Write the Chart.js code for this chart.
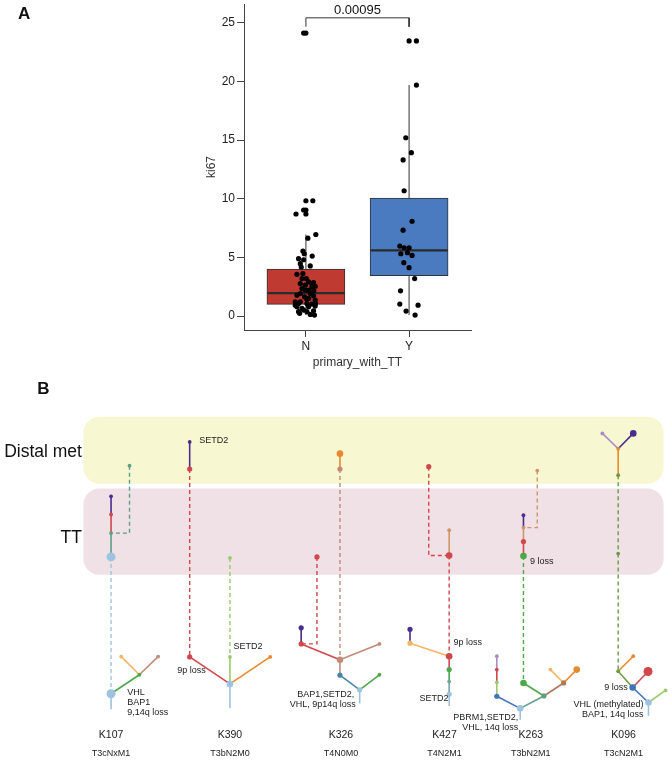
<!DOCTYPE html>
<html lang="en">
<head>
<meta charset="UTF-8">
<title>ki67 by primary_with_TT and clone trees</title>
<script src="https://cdn.jsdelivr.net/npm/chart.js"></script>
<style>
    body { margin: 0; background: #fff; }
    #wrap { position: relative; width: 672px; height: 763px; }
    canvas { position: absolute; left: 0; }
    #chartA { top: 0; }
    #chartB { top: 370px; }
</style>
</head>
<body>
<div id="wrap">
    <canvas id="chartA" width="672" height="380"></canvas>
    <canvas id="chartB" width="672" height="393"></canvas>
</div>
<script>
// ---------- panel A data ----------
const groups = ['N', 'Y'];
const kiTicks = [0, 5, 10, 15, 20, 25];
const boxQ1 = [1.0, 3.45];
const boxMedian = [1.95, 5.6];
const boxQ3 = [4.0, 10.05];
const whiskerLow = [0.08, 0.08];
const whiskerHigh = [6.95, 19.7];
const nValues = [24.12, 9.83, 9.04, 8.70, 6.95, 6.64, 5.54, 5.31, 4.89, 4.80, 5.11, 4.18, 4.27, 3.56,
    3.62, 3.19, 2.77, 2.85, 2.49, 2.54, 2.34, 2.20, 2.15, 1.78, 1.92, 1.72, 1.64, 1.41, 1.21, 1.07,
    1.07, 1.02, 1.07, 0.79, 0.65, 0.79, 0.85, 0.37, 0.37, 0.45, 0.23, 0.14, 0.08, 0.51, 1.21, 2.77,
    2.63, 2.91, 1.92, 2.20, 3.19, 0.93, 1.36, 1.50, 4.46];
const nJitter = [-0.022, 0.067, -0.022, -0.096, 0.096, 0.019, -0.029, -0.016, -0.071, -0.022, 0.061,
    -0.045, 0.042, -0.087, -0.029, 0.003, -0.054, 0.074, 0.058, 0.09, -0.038, 0.026, 0.077, -0.087,
    0.042, 0.074, -0.013, 0.01, -0.103, -0.071, 0.01, 0.058, 0.093, -0.087, -0.038, 0.026, 0.09,
    -0.071, 0.01, 0.074, -0.061, 0.042, 0.083, -0.022, -0.054, 0.058, -0.006, 0.026, -0.054, -0.006,
    -0.038, -0.103, 0.09, 0.026, -0.054];
const yValues = [23.45, 19.69, 15.20, 13.93, 13.31, 10.68, 8.08, 7.32, 5.96, 5.82, 5.82, 5.31, 5.40,
    5.17, 4.55, 4.12, 3.19, 2.15, 1.02, 0.93, 0.42, 0.08];
const yJitter = [0.071, 0.071, -0.032, 0.022, -0.058, -0.048, 0.029, -0.058, -0.090, -0.048, 0,
    -0.080, -0.016, 0.029, -0.051, 0, 0.054, -0.083, -0.090, 0.087, -0.029, 0.058];
const bracketTop = 25.42;
const bracketFoot = 24.66;
const pValue = '0.00095';

// ---------- panel B data ----------
const samples = ['K107', 'K390', 'K326', 'K427', 'K263', 'K096'];
const stages = ['T3cNxM1', 'T3bN2M0', 'T4N0M0', 'T4N2M1', 'T3bN2M1', 'T3cN2M1'];
const sampleX = [108, 228.5, 341, 446, 533.5, 627.5];
const sites = ['Distal met', 'TT'];
const siteTop = [413.3, 486.7];
const siteBottom = [481.7, 575];
const siteSpan = [80, 668];
const siteLabelY = [449, 538];

// [id, x, y, clone, size]  size 0 = trunk end, no dot
const treeNodes = [
    ['a_d1', 126.7, 463.3, 'teal', 1], ['a_t1', 108, 494.7, 'purple', 1], ['a_t2', 108, 513.3, 'red', 1],
    ['a_t3', 108, 532.3, 'teal', 1], ['a_t4', 108, 556.7, 'lblue', 4], ['a_p0', 108, 696.7, 'lblue', 4],
    ['a_p1', 136.7, 677.3, 'green', 1], ['a_p2', 118.3, 658.7, 'lorange', 1], ['a_p3', 155.7, 658.7, 'brown', 1],
    ['a_n', 108, 712.7, 'lblue', 0],

    ['b_d1', 187.7, 439, 'purple', 1], ['b_d2', 187.7, 466.7, 'red', 2], ['b_t1', 228.5, 557.7, 'lgreen', 1],
    ['b_p0', 228.5, 686.7, 'lblue', 3], ['b_p1', 187.7, 659, 'red', 2], ['b_p2', 228.5, 659, 'lgreen', 1],
    ['b_p3', 269.3, 659, 'orange', 1], ['b_n', 228.5, 711.7, 'lblue', 0],

    ['c_d1', 340, 451, 'orange', 3], ['c_d2', 340, 466.7, 'brown', 2], ['c_t1', 316.7, 556.7, 'red', 2],
    ['c_p0', 360, 692.7, 'lblue', 2], ['c_p1', 340, 677.7, 'sblue', 2], ['c_p2', 380, 677.3, 'green', 1],
    ['c_p3', 340, 662, 'brown', 3], ['c_p4', 380, 645.7, 'brown', 1], ['c_p5', 300.7, 645.7, 'red', 2],
    ['c_p6', 300.7, 629.3, 'purple', 2], ['c_n', 360, 706.7, 'lblue', 0],

    ['d_d1', 430, 464.3, 'red', 2], ['d_t1', 450.7, 555.3, 'red', 3], ['d_t2', 450.7, 529.3, 'tan', 1],
    ['d_p0', 450.7, 697.3, 'lblue', 2], ['d_p1', 450.7, 684.3, 'tealgrey', 1], ['d_p2', 450.7, 672, 'green', 2],
    ['d_p3', 450.7, 658.3, 'red', 3], ['d_p4', 411, 645, 'lorange', 2], ['d_p5', 411, 630.7, 'purple', 2],
    ['d_n', 450.7, 709.3, 'lblue', 0],

    ['e_d1', 540, 468.3, 'tan', 1], ['e_t1', 526, 514, 'purple', 1], ['e_t2', 526, 526.7, 'tan', 1],
    ['e_t3', 526, 541, 'red', 2], ['e_t4', 526, 555.7, 'green', 3], ['e_p0', 522.7, 711.7, 'lblue', 3],
    ['e_p1', 499, 699.3, 'blue', 2], ['e_p2', 499, 685, 'lgreen', 1], ['e_p3', 499, 672, 'red', 1],
    ['e_p4', 499, 658.3, 'lav', 1], ['e_p5', 546.7, 699, 'teal', 2], ['e_p6', 526, 685.7, 'green', 3],
    ['e_p7', 566.7, 685.7, 'dbrown', 2], ['e_p8', 553.3, 672, 'lorange', 1], ['e_p9', 580, 672, 'orange', 3],
    ['e_n', 522.7, 723.3, 'lblue', 0],

    ['f_d0', 622, 473, 'olive', 1], ['f_d1', 622, 446, 'orange', 1], ['f_d2', 606, 430.3, 'lav', 1],
    ['f_d3', 637.3, 430.3, 'purple', 3], ['f_t1', 622, 553.3, 'olive', 1], ['f_p0', 652.7, 705.7, 'lblue', 3],
    ['f_p1', 670, 693.3, 'lgreen', 1], ['f_p2', 636.7, 690.3, 'blue', 3], ['f_p3', 652.3, 674, 'red', 4],
    ['f_p4', 622, 673.7, 'olive', 1], ['f_p5', 637.3, 658.3, 'orange', 1], ['f_n', 652.7, 719.3, 'lblue', 0]
];

// [parent, child, kind]  t = branch, m = migration between sites
const treeEdges = [
    ['a_n', 'a_p0', 't'], ['a_p0', 'a_p1', 't'], ['a_p1', 'a_p2', 't'], ['a_p1', 'a_p3', 't'],
    ['a_p0', 'a_t4', 'm'], ['a_t4', 'a_t3', 't'], ['a_t3', 'a_t2', 't'], ['a_t2', 'a_t1', 't'], ['a_t3', 'a_d1', 'm'],
    ['b_n', 'b_p0', 't'], ['b_p0', 'b_p1', 't'], ['b_p0', 'b_p2', 't'], ['b_p0', 'b_p3', 't'],
    ['b_p1', 'b_d2', 'm'], ['b_d2', 'b_d1', 't'], ['b_p2', 'b_t1', 'm'],
    ['c_n', 'c_p0', 't'], ['c_p0', 'c_p1', 't'], ['c_p0', 'c_p2', 't'], ['c_p1', 'c_p3', 't'],
    ['c_p3', 'c_p4', 't'], ['c_p3', 'c_p5', 't'], ['c_p5', 'c_p6', 't'],
    ['c_p3', 'c_d2', 'm'], ['c_d2', 'c_d1', 't'], ['c_p5', 'c_t1', 'm'],
    ['d_n', 'd_p0', 't'], ['d_p0', 'd_p1', 't'], ['d_p1', 'd_p2', 't'], ['d_p2', 'd_p3', 't'],
    ['d_p3', 'd_p4', 't'], ['d_p4', 'd_p5', 't'], ['d_p3', 'd_t1', 'm'], ['d_t1', 'd_t2', 't'], ['d_t1', 'd_d1', 'm'],
    ['e_n', 'e_p0', 't'], ['e_p0', 'e_p1', 't'], ['e_p1', 'e_p2', 't'], ['e_p2', 'e_p3', 't'], ['e_p3', 'e_p4', 't'],
    ['e_p0', 'e_p5', 't'], ['e_p5', 'e_p6', 't'], ['e_p5', 'e_p7', 't'], ['e_p7', 'e_p8', 't'], ['e_p7', 'e_p9', 't'],
    ['e_p6', 'e_t4', 'm'], ['e_t4', 'e_t3', 't'], ['e_t3', 'e_t2', 't'], ['e_t2', 'e_t1', 't'], ['e_t2', 'e_d1', 'm'],
    ['f_n', 'f_p0', 't'], ['f_p0', 'f_p1', 't'], ['f_p0', 'f_p2', 't'], ['f_p2', 'f_p3', 't'], ['f_p2', 'f_p4', 't'],
    ['f_p4', 'f_p5', 't'], ['f_p4', 'f_t1', 'm'], ['f_t1', 'f_d0', 'm'], ['f_d0', 'f_d1', 't'],
    ['f_d1', 'f_d2', 't'], ['f_d1', 'f_d3', 't']
];

// [text, x, y, align]
const notes = [
    ['SETD2', 197.3, 438, 'left'],
    ['VHL', 124.3, 695, 'left'], ['BAP1', 124.3, 705.7, 'left'], ['9,14q loss', 124.3, 716, 'left'],
    ['SETD2', 232, 648.7, 'left'], ['9p loss', 204, 672.7, 'right'],
    ['BAP1,SETD2,', 354.5, 697.7, 'right'], ['VHL, 9p14q loss', 356, 708, 'right'],
    ['9p loss', 455, 644, 'left'], ['SETD2', 450, 701.7, 'right'],
    ['9 loss', 532.7, 561.7, 'left'],
    ['PBRM1,SETD2,', 520.7, 721, 'right'], ['VHL, 14q loss', 520.7, 731.7, 'right'],
    ['9 loss', 631.7, 690.3, 'right'], ['VHL (methylated)', 647.7, 707.3, 'right'], ['BAP1, 14q loss', 647.7, 717.7, 'right']
];

// ---------- styles ----------
const FONT = "'Liberation Sans', Arial, Helvetica, sans-serif";
const boxColors = ['#BF3A30', '#4A7BC1'];
const siteColors = ['#F7F7D1', '#F0E1E6'];
const nodeRadius = [0, 1.9, 2.6, 3.3, 4.5];
const cloneColor = {
    purple: '#4A2C8E', red: '#D1474C', teal: '#5F9E8B', lblue: '#9DC3E1', green: '#4DA84A',
    lorange: '#F1B764', brown: '#C28B78', orange: '#E8892E', lgreen: '#9ACB69', sblue: '#4A85A9',
    blue: '#3F74B7', lav: '#A78BC6', olive: '#6C9A42', tan: '#CF9468', tealgrey: '#70A59C', dbrown: '#A97B5D'
};

Chart.defaults.font.family = FONT;

function lineSet(pts, color, width, dash, order) {
    return {
        type: 'scatter', data: pts, showLine: true, borderColor: color, borderWidth: width,
        borderDash: dash || [], pointRadius: 0, pointHoverRadius: 0, tension: 0,
        fill: false, order: order, clip: false
    };
}

// no extra room for the outer tick labels
function noLabelPadding(s) {
    s.paddingTop = 0; s.paddingBottom = 0; s.paddingLeft = 0; s.paddingRight = 0;
}

// ---------- panel A ----------
const dsA = [];
groups.forEach((g, i) => {
    dsA.push(lineSet([{ x: i, y: boxQ3[i] }, { x: i, y: whiskerHigh[i] }], '#333', 1, null, 4));
    dsA.push(lineSet([{ x: i, y: whiskerLow[i] }, { x: i, y: boxQ1[i] }], '#333', 1, null, 4));
    dsA.push(lineSet([{ x: i - 0.375, y: boxMedian[i] }, { x: i + 0.375, y: boxMedian[i] }], '#2b2b2b', 2.4, null, 2));
});
dsA.push({
    type: 'bar',
    data: groups.map((g, i) => ({ x: i, y: [boxQ1[i], boxQ3[i]] })),
    backgroundColor: boxColors, borderColor: '#333', borderWidth: 1, borderSkipped: false,
    barThickness: 78, order: 3
});
const groupVals = [nValues, yValues];
const outliers = [];
groupVals.forEach((vals, i) => vals.forEach(v => {
    if (v > whiskerHigh[i] || v < whiskerLow[i]) outliers.push({ x: i, y: v });
}));
dsA.push({ type: 'scatter', data: outliers, pointRadius: 2.6, pointBackgroundColor: '#000', pointBorderWidth: 0, order: 1 });
dsA.push({
    type: 'scatter',
    data: nValues.map((v, k) => ({ x: 0 + nJitter[k], y: v })).concat(yValues.map((v, k) => ({ x: 1 + yJitter[k], y: v }))),
    pointRadius: 2.6, pointBackgroundColor: '#000', pointBorderWidth: 0, order: 0
});
dsA.push(lineSet([{ x: 0, y: bracketFoot }, { x: 0, y: bracketTop }, { x: 1, y: bracketTop }, { x: 1, y: bracketFoot }], '#333', 1, null, 5));

const textA = {
    id: 'textA',
    afterDraw(chart) {
        const ctx = chart.ctx, sx = chart.scales.x, sy = chart.scales.y;
        ctx.save();
        ctx.fillStyle = '#111';
        ctx.textBaseline = 'middle';
        ctx.textAlign = 'center';
        ctx.font = '13px ' + FONT;
        ctx.fillText(pValue, sx.getPixelForValue(0.5), sy.getPixelForValue(26.05));
        ctx.textAlign = 'left';
        ctx.font = 'bold 17px ' + FONT;
        ctx.fillText('A', 18, 14.5);
        ctx.restore();
    }
};

new Chart(document.getElementById('chartA'), {
    type: 'scatter',
    data: { datasets: dsA },
    options: {
        responsive: false, animation: false, events: [],
        layout: { padding: { left: 0, right: 201, top: 2, bottom: 0 } },
        plugins: { legend: { display: false }, tooltip: { enabled: false } },
        scales: {
            x: {
                type: 'linear', min: -0.6, max: 1.6, offset: false,
                afterBuildTicks: s => { s.ticks = groups.map((g, i) => ({ value: i })); },
                afterFit: s => { s.height = 50; noLabelPadding(s); },
                ticks: { callback: v => groups[v], font: { size: 12 }, color: '#222', padding: 2 },
                grid: { drawOnChartArea: false, drawTicks: true, tickLength: 7, color: '#444', offset: false },
                border: { display: true, color: '#444', width: 1 },
                title: { display: true, text: 'primary_with_TT', font: { size: 12 }, color: '#333', padding: { top: 0, bottom: 10 } }
            },
            y: {
                type: 'linear', min: -1.19, max: 26.6,
                afterBuildTicks: s => { s.ticks = kiTicks.map(v => ({ value: v })); },
                afterFit: s => { s.width = 244; noLabelPadding(s); },
                ticks: { font: { size: 12 }, color: '#222', padding: 2 },
                grid: { drawOnChartArea: false, drawTicks: true, tickLength: 7, color: '#444' },
                border: { display: true, color: '#444', width: 1 },
                title: { display: true, text: 'ki67', font: { size: 12 }, color: '#333', padding: { top: 204, bottom: 0 } }
            }
        }
    },
    plugins: [textA]
});

// ---------- panel B ----------
const nodeById = {};
treeNodes.forEach(n => { nodeById[n[0]] = n; });

const dsB = treeEdges.map(e => {
    const p = nodeById[e[0]], c = nodeById[e[1]];
    const color = cloneColor[c[3]];
    if (e[2] === 'm') {
        const pts = [{ x: c[1], y: c[2] }, { x: c[1], y: p[2] }, { x: p[1], y: p[2] }];
        return lineSet(pts, color, 1.4, [4, 3], 1);
    }
    return lineSet([{ x: p[1], y: p[2] }, { x: c[1], y: c[2] }], color, 1.6, null, 1);
});
const shownNodes = treeNodes.filter(n => n[4] > 0);
dsB.push({
    type: 'scatter',
    data: shownNodes.map(n => ({ x: n[1], y: n[2] })),
    pointRadius: shownNodes.map(n => nodeRadius[n[4]]),
    pointBackgroundColor: shownNodes.map(n => cloneColor[n[3]]),
    pointBorderWidth: 0, order: 0, clip: false
});

function roundRect(ctx, x, y, w, h, r) {
    ctx.beginPath();
    ctx.moveTo(x + r, y);
    ctx.arcTo(x + w, y, x + w, y + h, r);
    ctx.arcTo(x + w, y + h, x, y + h, r);
    ctx.arcTo(x, y + h, x, y, r);
    ctx.arcTo(x, y, x + w, y, r);
    ctx.closePath();
}

const textB = {
    id: 'textB',
    beforeDatasetsDraw(chart) {
        const ctx = chart.ctx, sx = chart.scales.x, sy = chart.scales.y;
        ctx.save();
        sites.forEach((s, i) => {
            const x0 = sx.getPixelForValue(siteSpan[0]), x1 = sx.getPixelForValue(siteSpan[1]);
            const y0 = sy.getPixelForValue(siteTop[i]), y1 = sy.getPixelForValue(siteBottom[i]);
            ctx.fillStyle = siteColors[i];
            roundRect(ctx, x0, y0, x1 - x0, y1 - y0, 16);
            ctx.fill();
        });
        ctx.restore();
    },
    afterDatasetsDraw(chart) {
        const ctx = chart.ctx, sx = chart.scales.x, sy = chart.scales.y;
        ctx.save();
        ctx.textBaseline = 'middle';
        ctx.fillStyle = '#111';
        ctx.textAlign = 'left';
        ctx.font = 'bold 17px ' + FONT;
        ctx.fillText('B', sx.getPixelForValue(33.3), sy.getPixelForValue(385.5));
        ctx.textAlign = 'right';
        ctx.font = '17.5px ' + FONT;
        sites.forEach((s, i) => ctx.fillText(s, sx.getPixelForValue(siteSpan[0]) - 1.5, sy.getPixelForValue(siteLabelY[i])));
        ctx.fillStyle = '#222';
        ctx.font = '9px ' + FONT;
        notes.forEach(n => {
            ctx.textAlign = n[3];
            ctx.fillText(n[0], sx.getPixelForValue(n[1]), sy.getPixelForValue(n[2]));
        });
        ctx.textAlign = 'center';
        samples.forEach((s, i) => {
            ctx.font = '10.5px ' + FONT;
            ctx.fillText(s, sx.getPixelForValue(sampleX[i]), sy.getPixelForValue(739.5));
            ctx.font = '9px ' + FONT;
            ctx.fillText(stages[i], sx.getPixelForValue(sampleX[i]), sy.getPixelForValue(758));
        });
        ctx.restore();
    }
};

new Chart(document.getElementById('chartB'), {
    type: 'scatter',
    data: { datasets: dsB },
    options: {
        responsive: false, animation: false, events: [],
        layout: { padding: 0 },
        plugins: { legend: { display: false }, tooltip: { enabled: false } },
        scales: {
            x: { type: 'linear', min: 0, max: 672, display: false },
            y: { type: 'linear', min: 370, max: 763, reverse: true, display: false }
        }
    },
    plugins: [textB]
});
</script>
</body>
</html>
